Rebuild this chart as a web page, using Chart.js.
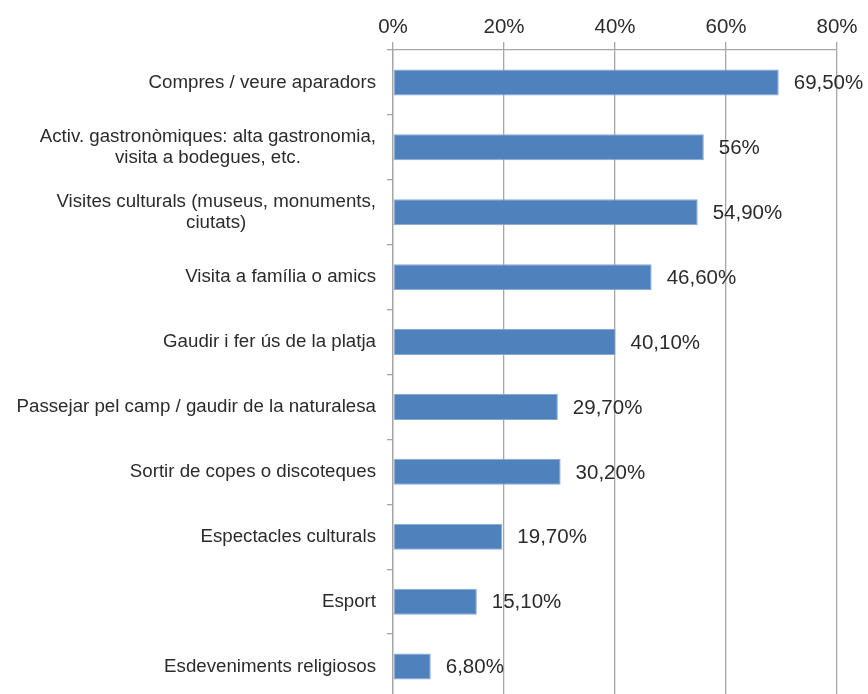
<!DOCTYPE html>
<html>
<head>
<meta charset="utf-8">
<script src="https://cdn.jsdelivr.net/npm/chart.js@4/dist/chart.umd.min.js"></script>
<style>
  html, body { margin: 0; padding: 0; background: #fff; overflow: hidden; }
  #c { display: block; }
</style>
</head>
<body>
<canvas id="c" width="868" height="700"></canvas>
<script>
const categories = [
  "Compres / veure aparadors",
  ["Activ. gastronòmiques: alta gastronomia,", "visita a bodegues, etc."],
  ["Visites culturals (museus, monuments,", "ciutats)"],
  "Visita a família o amics",
  "Gaudir i fer ús de la platja",
  "Passejar pel camp / gaudir de la naturalesa",
  "Sortir de copes o discoteques",
  "Espectacles culturals",
  "Esport",
  "Esdeveniments religiosos"
];
const values = [69.5, 56, 54.9, 46.6, 40.1, 29.7, 30.2, 19.7, 15.1, 6.8];
const valueLabels = ["69,50%", "56%", "54,90%", "46,60%", "40,10%", "29,70%", "30,20%", "19,70%", "15,10%", "6,80%"];
const xTicks = [0, 20, 40, 60, 80];

const FONT = "'Liberation Sans', Arial, sans-serif";
const TEXT = "#2b2b2b";
const GRID = "#a6a6a6";

const categoryLabelsPlugin = {
  id: 'categoryLabels',
  afterDraw(chart) {
    const ctx = chart.ctx;
    const ys = chart.scales.y;
    ctx.save();
    ctx.font = "18.7px " + FONT;
    ctx.fillStyle = TEXT;
    ctx.textAlign = 'center';
    ctx.textBaseline = 'middle';
    const lh = 21;
    categories.forEach((lab, i) => {
      const lines = Array.isArray(lab) ? lab : [lab];
      const maxW = Math.max(...lines.map(l => ctx.measureText(l).width));
      const cx = ys.right - 17 - maxW / 2;
      const cy = ys.getPixelForValue(i);
      lines.forEach((l, j) => {
        ctx.fillText(l, cx, cy + (j - (lines.length - 1) / 2) * lh);
      });
    });
    ctx.restore();
  }
};

const valueLabelsPlugin = {
  id: 'valueLabels',
  afterDatasetsDraw(chart) {
    const ctx = chart.ctx;
    const meta = chart.getDatasetMeta(0);
    ctx.save();
    ctx.font = "20.5px " + FONT;
    ctx.fillStyle = TEXT;
    ctx.textAlign = 'left';
    ctx.textBaseline = 'middle';
    meta.data.forEach((bar, i) => {
      ctx.fillText(valueLabels[i], bar.x + 15, bar.y + 1);
    });
    ctx.restore();
  }
};

new Chart(document.getElementById('c'), {
  type: 'bar',
  data: {
    labels: categories,
    datasets: [{
      data: values,
      backgroundColor: '#4f81bd',
      borderColor: '#86a9d6',
      borderWidth: 1,
      borderSkipped: false,
      barPercentage: 0.4,
      categoryPercentage: 1
    }]
  },
  options: {
    indexAxis: 'y',
    responsive: false,
    animation: false,
    devicePixelRatio: 1,
    layout: { padding: { top: 0, right: 31, bottom: 1, left: 0 } },
    plugins: { legend: { display: false }, tooltip: { enabled: false } },
    scales: {
      x: {
        position: 'top',
        min: 0,
        max: 80,
        afterBuildTicks: s => { s.ticks = xTicks.map(v => ({ value: v })); },
        ticks: {
          callback: v => v + '%',
          color: TEXT,
          font: { size: 20.5, family: FONT },
          padding: 2,
          maxRotation: 0
        },
        grid: { color: GRID, tickLength: 8, lineWidth: 1.3 },
        border: { color: GRID, width: 1.3 },
        afterFit: s => { s.height = 50; }
      },
      y: {
        ticks: { display: false },
        grid: { offset: true, drawOnChartArea: false, tickLength: 6, color: GRID, lineWidth: 1.3 },
        border: { color: GRID, width: 1.3 },
        afterFit: s => { s.width = 393; }
      }
    }
  },
  plugins: [categoryLabelsPlugin, valueLabelsPlugin]
});
</script>
</body>
</html>
